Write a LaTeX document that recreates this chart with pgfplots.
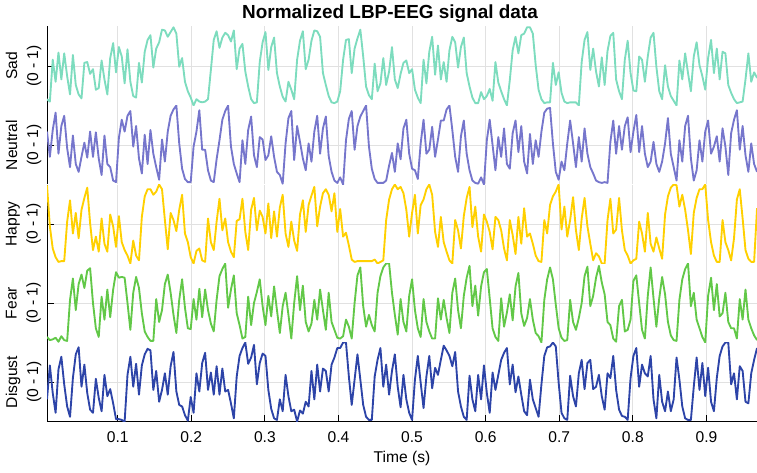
\documentclass[border=0pt]{standalone}
\usepackage{fontspec}
\setmainfont{Liberation Sans}
\usepackage{pgfplots}
\usepackage{pgfplotstable}
\pgfplotsset{compat=1.18}
\definecolor{csad}{RGB}{125,220,190}
\definecolor{cneu}{RGB}{118,118,204}
\definecolor{chap}{RGB}{255,208,0}
\definecolor{cfea}{RGB}{98,200,72}
\definecolor{cdis}{RGB}{45,68,168}
\definecolor{cgrid}{RGB}{225,225,225}
\pgfplotstableread{
t sad neu hap fea dis
0.0039 0.08 0.67 0.99 0.07 0.28
0.0078 0.05 0.35 0.47 0.03 0.71
0.0117 0.58 0.69 0.19 0.04 0.36
0.0156 0.30 0.91 0.08 0.06 0.11
0.0195 0.67 0.39 0.02 0.01 0.66
0.0234 0.33 0.74 0.03 0.08 0.82
0.0273 0.66 0.87 0.03 0.03 0.47
0.0313 0.37 0.46 0.53 0.02 0.19
0.0352 0.14 0.22 0.80 0.54 0.06
0.0391 0.64 0.62 0.38 0.81 0.55
0.0430 0.26 0.26 0.64 0.41 0.85
0.0469 0.14 0.16 0.32 0.74 0.94
0.0508 0.09 0.35 0.68 0.86 0.44
0.0547 0.54 0.53 0.83 0.69 0.72
0.0586 0.55 0.34 0.96 0.91 0.36
0.0625 0.40 0.67 0.51 0.94 0.15
0.0664 0.46 0.35 0.17 0.50 0.11
0.0703 0.20 0.66 0.34 0.18 0.54
0.0742 0.22 0.33 0.15 0.07 0.30
0.0781 0.57 0.12 0.57 0.58 0.13
0.0820 0.33 0.62 0.25 0.29 0.59
0.0859 0.14 0.26 0.15 0.67 0.32
0.0898 0.60 0.22 0.62 0.32 0.41
0.0938 0.79 0.05 0.47 0.67 0.23
0.0977 0.42 0.03 0.21 0.89 0.03
0.1016 0.74 0.59 0.60 0.82 0.03
0.1055 0.62 0.82 0.27 0.83 0.02
0.1094 0.28 0.67 0.17 0.82 0.00
0.1133 0.71 0.87 0.10 0.50 0.59
0.1172 0.30 0.93 0.00 0.16 0.82
0.1211 0.12 0.48 0.29 0.63 0.44
0.1250 0.10 0.74 0.10 0.83 0.73
0.1289 0.54 0.33 0.04 0.69 0.34
0.1328 0.29 0.14 0.59 0.37 0.71
0.1367 0.68 0.63 0.85 0.14 0.85
0.1406 0.83 0.26 0.94 0.07 0.92
0.1445 0.89 0.69 0.94 0.02 0.90
0.1484 0.48 0.39 0.87 0.02 0.40
0.1523 0.72 0.22 0.91 0.55 0.64
0.1563 0.80 0.06 1.00 0.26 0.25
0.1602 0.96 0.57 0.94 0.41 0.40
0.1641 0.95 0.29 0.55 0.74 0.61
0.1680 0.87 0.67 0.18 0.86 0.34
0.1719 0.93 0.87 0.64 0.63 0.70
0.1758 0.99 0.95 0.55 0.35 0.88
0.1797 0.91 1.00 0.41 0.12 0.38
0.1836 0.49 0.52 0.68 0.54 0.21
0.1875 0.60 0.20 0.87 0.80 0.19
0.1914 0.30 0.07 0.38 0.44 0.08
0.1953 0.18 0.03 0.27 0.18 0.01
0.1992 0.10 0.03 0.08 0.17 0.31
0.2031 0.00 0.48 0.00 0.55 0.11
0.2070 0.08 0.67 0.16 0.29 0.61
0.2109 0.05 0.94 0.19 0.68 0.38
0.2148 0.04 0.44 0.04 0.32 0.74
0.2188 0.05 0.44 0.02 0.67 0.87
0.2227 0.08 0.18 0.57 0.41 0.40
0.2266 0.45 0.05 0.27 0.24 0.62
0.2305 0.83 0.03 0.17 0.14 0.34
0.2344 0.94 0.32 0.53 0.54 0.70
0.2383 0.73 0.56 0.82 0.84 0.34
0.2422 0.86 0.82 0.42 0.93 0.67
0.2461 0.92 0.93 0.57 1.00 0.38
0.2500 0.89 1.00 0.27 0.44 0.40
0.2539 0.81 0.48 0.15 0.67 0.23
0.2578 0.95 0.26 0.08 0.85 0.04
0.2617 0.46 0.14 0.54 0.37 0.57
0.2656 0.72 0.03 0.56 0.22 0.83
0.2695 0.78 0.56 0.82 0.05 0.93
0.2734 0.43 0.26 0.40 0.07 1.00
0.2773 0.24 0.69 0.17 0.58 0.73
0.2813 0.08 0.86 0.68 0.22 0.81
0.2852 0.03 0.37 0.83 0.50 0.97
0.2891 0.04 0.22 0.42 0.64 0.47
0.2930 0.55 0.60 0.67 0.80 0.74
0.2969 0.80 0.57 0.59 0.46 0.86
0.3008 0.93 0.31 0.38 0.22 0.83
0.3047 0.45 0.37 0.76 0.59 0.40
0.3086 0.74 0.61 0.32 0.33 0.16
0.3125 0.86 0.35 0.66 0.71 0.04
0.3164 0.41 0.16 0.34 0.41 0.02
0.3203 0.24 0.12 0.71 0.12 0.28
0.3242 0.11 0.01 0.87 0.46 0.13
0.3281 0.05 0.52 0.38 0.63 0.59
0.3320 0.30 0.84 0.21 0.35 0.32
0.3359 0.20 0.93 0.53 0.05 0.13
0.3398 0.08 0.31 0.29 0.50 0.15
0.3438 0.58 0.74 0.16 0.84 0.00
0.3477 0.82 0.54 0.62 0.41 0.14
0.3516 0.94 0.33 0.80 0.72 0.10
0.3555 0.46 0.18 0.40 0.26 0.25
0.3594 0.58 0.52 0.74 0.14 0.19
0.3633 0.82 0.29 0.86 0.24 0.64
0.3672 0.95 0.67 0.97 0.54 0.28
0.3711 0.94 0.87 0.47 0.29 0.72
0.3750 0.87 0.39 0.72 0.67 0.38
0.3789 0.41 0.71 0.89 0.41 0.67
0.3828 0.26 0.86 0.94 0.16 0.64
0.3867 0.12 0.36 0.87 0.63 0.38
0.3906 0.04 0.16 0.66 0.26 0.72
0.3945 0.03 0.05 0.89 0.16 0.81
0.3984 0.05 0.02 0.40 0.06 0.93
0.4023 0.18 0.09 0.69 0.05 0.93
0.4063 0.58 0.00 0.34 0.08 1.00
0.4102 0.83 0.56 0.39 0.29 1.00
0.4141 0.84 0.83 0.23 0.20 0.57
0.4180 0.41 0.93 0.05 0.05 0.21
0.4219 0.72 0.44 0.02 0.50 0.53
0.4258 0.85 0.74 0.03 0.85 0.85
0.4297 0.96 0.86 0.03 0.95 0.53
0.4336 0.62 0.93 0.03 0.46 0.21
0.4375 0.24 1.00 0.03 0.20 0.06
0.4414 0.13 0.48 0.03 0.35 0.02
0.4453 0.08 0.20 0.03 0.22 0.02
0.4492 0.53 0.07 0.05 0.14 0.57
0.4531 0.18 0.02 0.00 0.63 0.78
0.4570 0.28 0.02 0.02 0.84 0.93
0.4609 0.60 0.02 0.04 0.95 0.44
0.4648 0.26 0.05 0.55 1.00 0.72
0.4688 0.43 0.24 0.81 1.00 0.34
0.4727 0.74 0.40 0.94 0.63 0.64
0.4766 0.33 0.16 1.00 0.35 0.85
0.4805 0.22 0.52 0.94 0.10 0.44
0.4844 0.40 0.32 0.97 0.55 0.18
0.4883 0.54 0.71 0.89 0.26 0.59
0.4922 0.57 0.82 0.68 0.14 0.28
0.4961 0.41 0.39 0.34 0.59 0.11
0.5000 0.46 0.20 0.64 0.80 0.02
0.5039 0.20 0.18 0.87 0.41 0.53
0.5078 0.10 0.07 0.38 0.18 0.83
0.5117 0.03 0.52 0.74 0.07 0.49
0.5156 0.58 0.82 0.81 0.55 0.17
0.5195 0.28 0.39 0.94 0.26 0.57
0.5234 0.68 0.44 1.00 0.14 0.83
0.5273 0.87 0.73 0.87 0.05 0.42
0.5313 0.39 0.35 0.40 0.05 0.68
0.5352 0.76 0.57 0.21 0.56 0.59
0.5391 0.33 0.81 0.59 0.29 0.78
0.5430 0.55 0.81 0.27 0.54 0.96
0.5469 0.30 0.95 0.15 0.31 0.90
0.5508 0.70 1.00 0.04 0.12 0.83
0.5547 0.87 0.69 0.00 0.63 0.70
0.5586 0.80 0.35 0.55 0.81 0.88
0.5625 0.48 0.16 0.42 0.41 0.38
0.5664 0.74 0.61 0.19 0.18 0.19
0.5703 0.86 0.81 0.60 0.59 0.06
0.5742 0.41 0.39 0.83 0.82 0.02
0.5781 0.24 0.18 0.97 0.97 0.58
0.5820 0.10 0.05 0.46 0.46 0.28
0.5859 0.03 0.02 0.72 0.72 0.13
0.5898 0.03 0.01 0.34 0.34 0.59
0.5938 0.17 0.09 0.15 0.71 0.28
0.5977 0.08 0.00 0.62 0.89 0.71
0.6016 0.12 0.56 0.53 0.93 0.36
0.6055 0.21 0.82 0.40 0.56 0.11
0.6094 0.06 0.50 0.18 0.18 0.62
0.6133 0.55 0.18 0.59 0.07 0.40
0.6172 0.29 0.60 0.55 0.02 0.59
0.6211 0.18 0.35 0.42 0.56 0.78
0.6250 0.08 0.71 0.19 0.20 0.87
0.6289 0.00 0.26 0.04 0.38 0.93
0.6328 0.32 0.20 0.55 0.61 0.47
0.6367 0.70 0.65 0.36 0.28 0.72
0.6406 0.87 0.81 0.12 0.71 0.37
0.6445 0.66 0.41 0.59 0.88 0.57
0.6484 0.89 0.74 0.25 0.37 0.34
0.6523 0.91 0.29 0.70 0.21 0.13
0.6563 0.99 0.14 0.34 0.31 0.08
0.6602 0.99 0.64 0.38 0.55 0.53
0.6641 0.91 0.26 0.25 0.29 0.28
0.6680 0.51 0.56 0.10 0.12 0.17
0.6719 0.20 0.35 0.03 0.08 0.06
0.6758 0.08 0.67 0.02 0.00 0.47
0.6797 0.03 0.91 0.55 0.54 0.83
0.6836 0.04 0.96 0.38 0.80 0.94
0.6875 0.04 0.97 0.74 0.95 0.95
0.6914 0.54 0.52 0.85 0.80 1.00
0.6953 0.26 0.16 0.91 0.48 0.95
0.6992 0.42 0.06 1.00 0.18 0.49
0.7031 0.16 0.29 0.43 0.06 0.11
0.7070 0.05 0.18 0.72 0.02 0.04
0.7109 0.03 0.52 0.34 0.03 0.02
0.7148 0.04 0.81 0.55 0.54 0.58
0.7188 0.04 0.52 0.84 0.26 0.32
0.7227 0.04 0.22 0.42 0.16 0.19
0.7266 0.00 0.60 0.17 0.31 0.61
0.7305 0.55 0.29 0.57 0.50 0.78
0.7344 0.83 0.71 0.83 0.84 0.41
0.7383 0.93 0.39 0.47 0.96 0.74
0.7422 0.45 0.22 0.25 0.46 0.78
0.7461 0.72 0.14 0.04 0.59 0.41
0.7500 0.43 0.05 0.13 0.82 0.44
0.7539 0.24 0.03 0.09 0.97 0.59
0.7578 0.61 0.02 0.00 0.76 0.32
0.7617 0.26 0.03 0.00 0.61 0.15
0.7656 0.69 0.02 0.55 0.26 0.61
0.7695 0.88 0.54 0.82 0.22 0.55
0.7734 0.92 0.81 0.38 0.05 0.83
0.7773 0.33 0.39 0.43 0.01 0.40
0.7813 0.18 0.74 0.83 0.46 0.15
0.7852 0.08 0.44 0.42 0.54 0.07
0.7891 0.58 0.74 0.17 0.14 0.06
0.7930 0.82 0.85 0.10 0.16 0.02
0.7969 0.41 0.41 0.00 0.29 0.55
0.8008 0.19 0.67 0.04 0.78 0.83
0.8047 0.18 0.88 0.06 0.85 0.93
0.8086 0.62 0.41 0.53 0.50 0.44
0.8125 0.58 0.74 0.38 0.16 0.72
0.8164 0.30 0.39 0.15 0.05 0.61
0.8203 0.62 0.22 0.64 0.59 0.57
0.8242 0.86 0.29 0.25 0.95 0.83
0.8281 0.92 0.54 0.15 0.56 0.28
0.8320 0.49 0.26 0.33 0.20 0.04
0.8359 0.18 0.16 0.19 0.56 0.59
0.8398 0.08 0.29 0.06 0.83 0.25
0.8438 0.51 0.52 0.62 0.61 0.13
0.8477 0.24 0.84 0.85 0.26 0.38
0.8516 0.12 0.39 0.96 0.09 0.13
0.8555 0.06 0.22 1.00 0.03 0.28
0.8594 0.00 0.05 0.99 0.02 0.81
0.8633 0.57 0.56 0.72 0.54 0.53
0.8672 0.33 0.29 0.87 0.80 0.19
0.8711 0.66 0.74 0.68 0.93 0.04
0.8750 0.41 0.87 0.42 1.00 0.02
0.8789 0.18 0.33 0.12 0.46 0.02
0.8828 0.62 0.05 0.64 0.63 0.44
0.8867 0.80 0.18 0.83 0.29 0.81
0.8906 0.51 0.56 0.94 0.18 0.40
0.8945 0.37 0.29 0.94 0.07 0.74
0.8984 0.20 0.67 1.00 0.00 0.32
0.9023 0.60 0.81 0.55 0.59 0.68
0.9063 0.83 0.39 0.27 0.82 0.25
0.9102 0.41 0.48 0.10 0.41 0.13
0.9141 0.72 0.61 0.02 0.74 0.55
0.9180 0.33 0.29 0.02 0.33 0.83
0.9219 0.68 0.71 0.55 0.37 0.95
0.9258 0.66 0.48 0.27 0.63 1.00
0.9297 0.26 0.12 0.17 0.26 1.00
0.9336 0.16 0.65 0.04 0.18 0.47
0.9375 0.08 0.82 0.32 0.18 0.61
0.9414 0.03 0.94 0.81 0.05 0.28
0.9453 0.04 0.44 0.94 0.55 0.70
0.9492 0.05 0.74 0.57 0.29 0.64
0.9531 0.33 0.37 0.17 0.67 0.25
0.9570 0.66 0.16 0.06 0.29 0.23
0.9609 0.30 0.52 0.02 0.18 0.61
0.9648 0.42 0.26 0.02 0.09 0.78
0.9688 0.35 0.16 0.70 0.03 0.93
}\eeg
\pgfplotsset{
  band/.style={
    scale only axis, width=532.5pt, height=59.25pt,
    xmin=0.00390625, xmax=0.96875, ymin=0, ymax=1,
    axis y line*=left, axis x line*=bottom,
    axis line style={-, line width=0.6pt, black},
    xtick={0.1,0.2,0.3,0.4,0.5,0.6,0.7,0.8,0.9},
    ytick={0.5}, yticklabels={},
    xmajorgrids, ymajorgrids,
    grid style={cgrid, line width=0.6pt},
    tick align=inside, major tick length=5.25pt,
    tick style={black, line width=0.6pt},
    every axis plot/.append style={line width=1.4pt, line join=round, mark=none},
  },
  upper/.style={
    band, xticklabels={}, xtick style={draw=none},
    x axis line style={draw=none},
  },
}
\newcommand{\lblfont}{\fontsize{11.7pt}{15.75pt}\selectfont}
\begin{document}
\begin{tikzpicture}
\useasboundingbox (0,0) rectangle (567.75pt,354pt);
\begin{axis}[upper, at={(35.25pt,274.875pt)}, anchor=south west]
  \addplot[csad] table[x=t, y=sad] {\eeg};
\end{axis}
\begin{axis}[upper, at={(35.25pt,215.625pt)}, anchor=south west]
  \addplot[cneu] table[x=t, y=neu] {\eeg};
\end{axis}
\begin{axis}[upper, at={(35.25pt,156.375pt)}, anchor=south west]
  \addplot[chap] table[x=t, y=hap] {\eeg};
\end{axis}
\begin{axis}[upper, at={(35.25pt,97.125pt)}, anchor=south west]
  \addplot[cfea] table[x=t, y=fea] {\eeg};
\end{axis}
\begin{axis}[band, at={(35.25pt,37.875pt)}, anchor=south west,
  xticklabels={0.1,0.2,0.3,0.4,0.5,0.6,0.7,0.8,0.9},
  xticklabel style={font=\lblfont, inner sep=0pt, anchor=north, yshift=-7.6pt}]
  \addplot[cdis] table[x=t, y=dis] {\eeg};
\end{axis}
\node[rotate=90, align=center, font=\lblfont] at (17.6pt,304.5pt) {Sad\\(0 - 1)};
\node[rotate=90, align=center, font=\lblfont] at (17.6pt,245.25pt) {Neutral\\(0 - 1)};
\node[rotate=90, align=center, font=\lblfont] at (17.6pt,186pt) {Happy\\(0 - 1)};
\node[rotate=90, align=center, font=\lblfont] at (17.6pt,126.75pt) {Fear\\(0 - 1)};
\node[rotate=90, align=center, font=\lblfont] at (17.6pt,67.5pt) {Disgust\\(0 - 1)};
\node[anchor=base, font=\fontsize{14.2pt}{17pt}\selectfont\bfseries] at (292.5pt,340.1pt) {Normalized LBP-EEG signal data};
\node[anchor=base, font=\lblfont] at (301.5pt,7.1pt) {Time (s)};
\end{tikzpicture}
\end{document}
